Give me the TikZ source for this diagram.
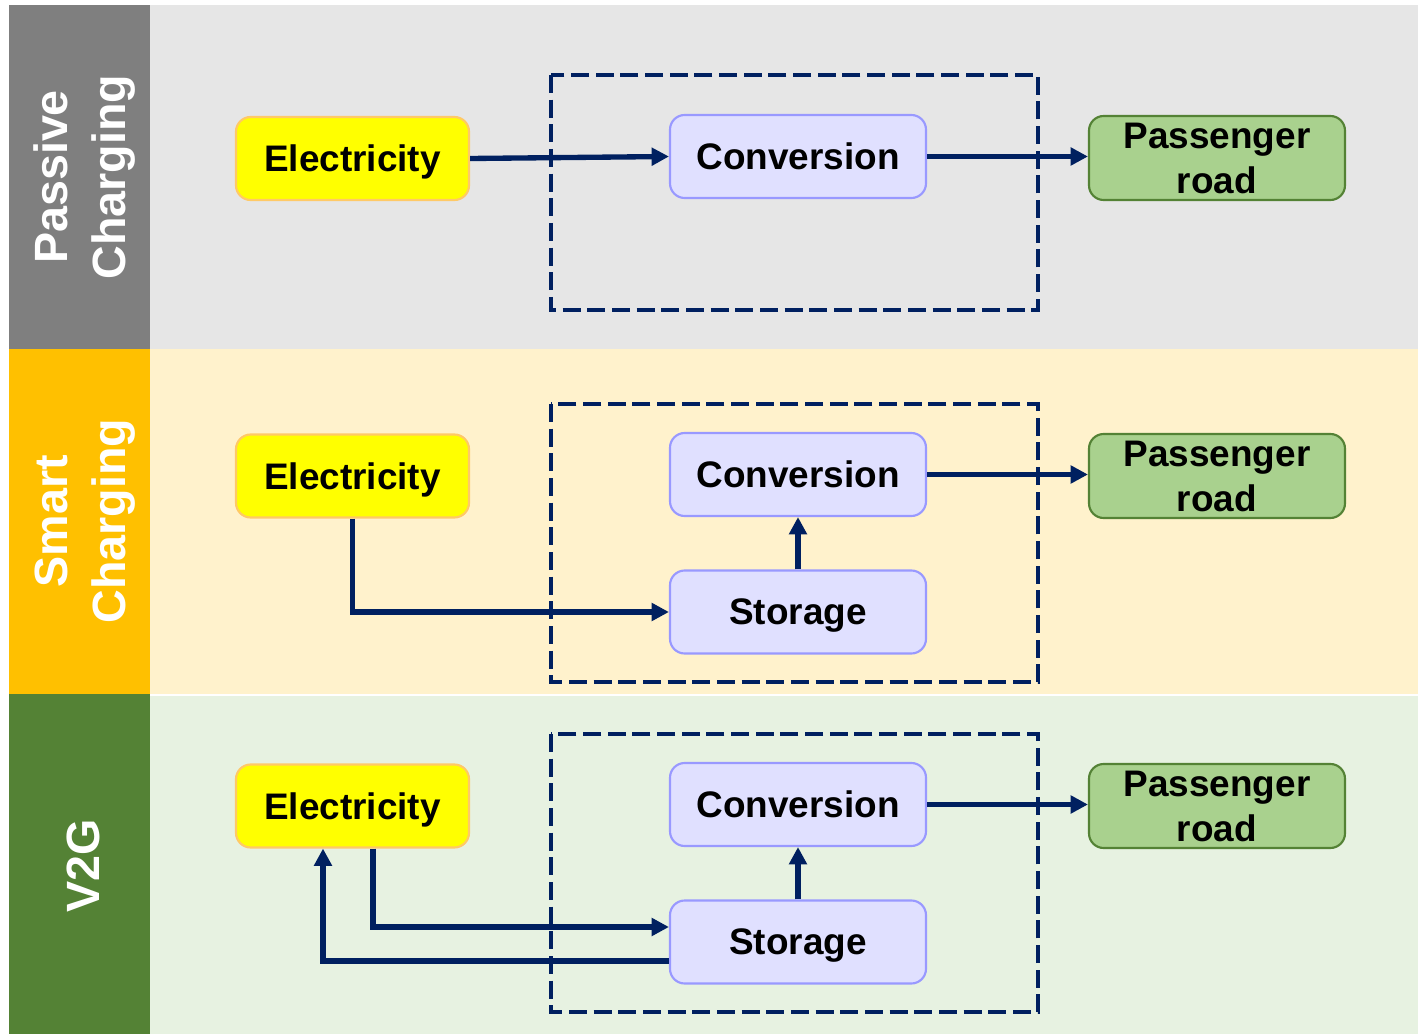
\documentclass[tikz,border=0pt]{standalone}
\usepackage{fontspec}
\setmainfont{Liberation Sans}
\usetikzlibrary{arrows.meta,calc}

\definecolor{navy}{HTML}{002060}
\definecolor{bandA}{HTML}{E6E6E6}
\definecolor{bandB}{HTML}{FFF2CC}
\definecolor{bandC}{HTML}{E7F2E1}
\definecolor{tabA}{HTML}{7F7F7F}
\definecolor{tabB}{HTML}{FFC000}
\definecolor{tabC}{HTML}{548235}
\definecolor{elecfill}{HTML}{FFFF00}
\definecolor{elecline}{HTML}{FFC966}
\definecolor{convfill}{HTML}{E0E0FF}
\definecolor{convline}{HTML}{9999FF}
\definecolor{passfill}{HTML}{A9D18E}
\definecolor{passline}{HTML}{548235}

\tikzset{
  box/.style={rounded corners=11pt, line width=1.6pt, inner sep=0pt,
    font=\bfseries\fontsize{27.7}{34}\selectfont, align=center,
    text depth=0pt},
  elecbox/.style={box, fill=elecfill, draw=elecline,
    minimum width=174.75pt, minimum height=62.25pt},
  convbox/.style={box, fill=convfill, draw=convline,
    minimum width=192pt, minimum height=62.25pt},
  passbox/.style={box, fill=passfill, draw=passline,
    minimum width=192pt, minimum height=63pt},
  tablabel/.style={rotate=90, text=white, align=center,
    font=\bfseries\fontsize{35}{43.5}\selectfont},
  arr/.style={draw=navy, line width=4pt,
    -{Triangle[length=13pt,width=13pt]}},
  frame/.style={draw=navy, line width=3pt, dash pattern=on 13.5pt off 5pt}
}

\begin{document}
\begin{tikzpicture}[x=0.75pt,y=-0.75pt]
\useasboundingbox (0,0) rectangle (1418,1034);
\fill[white] (0,0) rectangle (1418,1034);

% bands
\fill[bandA] (150,5) rectangle (1418,349);
\fill[bandB] (150,349) rectangle (1418,694);
\fill[bandC] (150,695.5) rectangle (1418,1034);
\fill[tabA] (9,5) rectangle (150,349);
\fill[tabB] (9,349) rectangle (150,694);
\fill[tabC] (9,694) rectangle (150,1034);

\node[tablabel] (labA) at (85,177) {Passive\\Charging};
\node[tablabel] (labB) at (85,521) {Smart\\Charging};
\node[tablabel] (labC) at (83,866) {V2G};

% dashed frames
\draw[frame] (551,75) rectangle (1038,310);
\draw[frame] (551,404) rectangle (1038,682);
\draw[frame] (551,734) rectangle (1038,1012);

% passive charging
\node[elecbox] (eA) at (352.5,158.5) {Electricity};
\node[convbox] (cA) at (798,156.5) {Conversion};
\node[passbox] (pA) at (1217,158) {Passenger\\road};
\draw[arr] (eA.east) -- (cA.west);
\draw[arr] (cA.east) -- (cA.east -| pA.west);

% smart charging
\node[elecbox] (eB) at (352.5,476) {Electricity};
\node[convbox] (cB) at (798,474.5) {Conversion};
\node[convbox] (sB) at (798,612) {Storage};
\node[passbox] (pB) at (1217,476) {Passenger\\road};
\draw[arr] (eB.south) |- (sB.west);
\draw[arr] (sB.north) -- (cB.south);
\draw[arr] (cB.east) -- (cB.east -| pB.west);

% vehicle to grid
\node[elecbox] (eC) at (352.5,806) {Electricity};
\node[convbox] (cC) at (798,804.5) {Conversion};
\node[convbox] (sC) at (798,942) {Storage};
\node[passbox] (pC) at (1217,806) {Passenger\\road};
\draw[arr] ($(eC.south)+(20.5,0)$) |- ($(sC.west)+(0,-15)$);
\draw[arr] ($(sC.west)+(0,19)$) -| ($(eC.south)+(-29.5,0)$);
\draw[arr] (sC.north) -- (cC.south);
\draw[arr] (cC.east) -- (cC.east -| pC.west);
\end{tikzpicture}
\end{document}
